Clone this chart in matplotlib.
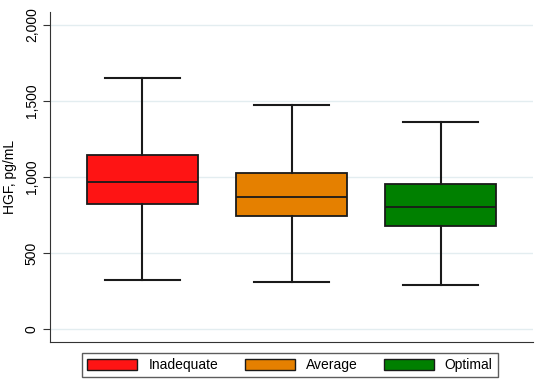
import matplotlib.pyplot as plt
from matplotlib.patches import Patch

plt.rcParams['font.family'] = ['Liberation Sans', 'DejaVu Sans']

# Box statistics (HGF, pg/mL)
groups = ["Inadequate", "Average", "Optimal"]
whislo = [325, 312, 290]
q1 = [820, 741, 678]
med = [965, 868, 803]
q3 = [1147, 1026, 952]
whishi = [1649, 1474, 1362]
colors = ["#fe1414", "#e58000", "#008000"]
yticks = [0, 500, 1000, 1500, 2000]

stats = []
for i, g in enumerate(groups):
    stats.append({"label": g, "whislo": whislo[i], "q1": q1[i], "med": med[i],
                  "q3": q3[i], "whishi": whishi[i], "fliers": []})

fig = plt.figure(figsize=(5.36, 3.84), dpi=100)
ax = fig.add_axes([50 / 536, 42 / 384, 483 / 536, 330 / 384])

line = dict(color="#1a1a1a", linewidth=1.5)
bp = ax.bxp(stats, positions=[1, 2, 3], widths=0.745, patch_artist=True,
            showfliers=False, boxprops=dict(edgecolor="#1a1a1a", linewidth=1.3),
            medianprops=dict(color="#1a1a1a", linewidth=1.3),
            whiskerprops=line, capprops=line, capwidths=0.5)
for patch, c in zip(bp["boxes"], colors):
    patch.set_facecolor(c)

ax.set_xlim(0.38, 3.62)
ax.set_ylim(-85, 2085)
ax.set_yticks(yticks)
ax.set_yticklabels([f"{v:,}" for v in yticks], rotation=90, va="center", fontsize=10)
ax.grid(axis="y", color="#e3edf0", linewidth=1)
ax.set_axisbelow(True)
ax.set_xticks([])
ax.set_ylabel("HGF, pg/mL", fontsize=10, labelpad=6)
for s in ["top", "right"]:
    ax.spines[s].set_visible(False)
for s in ["left", "bottom"]:
    ax.spines[s].set_color("#333333")
ax.tick_params(axis="y", length=5, color="#333333", pad=3)

handles = [Patch(facecolor=c, edgecolor="#1a1a1a", label=g) for g, c in zip(groups, colors)]
fig.legend(handles=handles, loc="center", bbox_to_anchor=(290 / 536, 1 - 365 / 384),
           ncol=3, fontsize=10, frameon=True, fancybox=False, edgecolor="#333333",
           handlelength=3.6, handleheight=0.85, columnspacing=1.9, handletextpad=0.8,
           borderpad=0.35)

plt.savefig("out.png", dpi=100)
